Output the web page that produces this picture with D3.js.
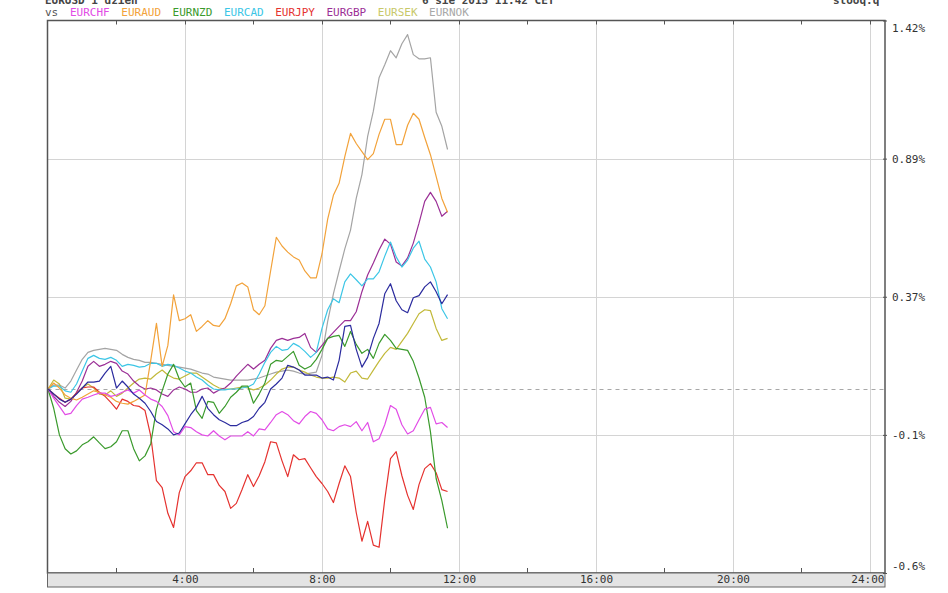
<!DOCTYPE html>
<html><head><meta charset="utf-8">
<script src="https://cdn.jsdelivr.net/npm/d3@7"></script>
<style>body{margin:0;background:#fff}svg{display:block}</style>
</head><body>
<svg id="c" width="948" height="593"></svg>
<script>
// ---- data (percent change since 0:00, sampled every 10 minutes) ----
const times = d3.range(71).map(i => i / 6);
const seriesNames = ["EURNOK","EURSEK","EURGBP","EURJPY","EURCAD","EURNZD","EURAUD","EURCHF","EURUSD"];
const seriesColors = ["#a4a4a4","#c2b93a","#9b2f96","#e5322f","#3cc6e6","#3a9a2c","#f2a23a","#e24ce6","#2b2b9e"];
const legendNames = ["EURCHF","EURAUD","EURNZD","EURCAD","EURJPY","EURGBP","EURSEK","EURNOK"];
const legendColors = ["#e24ce6","#f2a23a","#3a9a2c","#3cc6e6","#e5322f","#9b2f96","#c8c86a","#a8a8a8"];

const EURUSD = [0,-0.011,-0.022,-0.029,-0.022,-0.011,0.004,0.028,0.028,0.032,0.064,0.091,0.004,0.032,0.008,-0.011,-0.020,-0.031,-0.049,-0.071,-0.078,-0.087,-0.100,-0.096,-0.076,-0.056,-0.040,-0.016,-0.042,-0.056,-0.067,-0.073,-0.080,-0.080,-0.073,-0.069,-0.060,-0.042,-0.029,0,0.020,0.044,0.095,0.088,0.076,0.056,0.056,0.056,0.044,0.048,0.036,0.115,0.251,0.255,0.159,0.088,0.127,0.203,0.263,0.381,0.419,0.354,0.318,0.306,0.366,0.374,0.407,0.426,0.389,0.342,0.378];
const EURCHF = [0,-0.020,-0.038,-0.056,-0.053,-0.036,-0.022,-0.018,-0.013,-0.009,-0.009,-0.016,-0.013,-0.007,-0.002,-0.009,-0.002,-0.013,-0.022,-0.027,-0.038,-0.058,-0.093,-0.100,-0.082,-0.084,-0.093,-0.100,-0.104,-0.091,-0.104,-0.118,-0.104,-0.104,-0.104,-0.093,-0.104,-0.087,-0.089,-0.073,-0.056,-0.049,-0.056,-0.069,-0.076,-0.060,-0.049,-0.053,-0.067,-0.087,-0.091,-0.082,-0.078,-0.082,-0.071,-0.091,-0.073,-0.125,-0.114,-0.078,-0.036,-0.044,-0.078,-0.098,-0.091,-0.067,-0.044,-0.040,-0.076,-0.073,-0.084];
const EURAUD = [0,0.024,0.004,-0.013,-0.020,-0.024,-0.018,-0.011,-0.004,-0.007,-0.013,-0.018,-0.027,-0.031,-0.033,-0.027,-0.020,-0.013,0.115,0.263,0.091,0.175,0.377,0.274,0.282,0.298,0.231,0.251,0.274,0.255,0.251,0.282,0.342,0.411,0.422,0.407,0.318,0.298,0.334,0.467,0.594,0.561,0.538,0.520,0.508,0.467,0.441,0.441,0.531,0.662,0.752,0.797,0.898,0.987,0.948,0.917,0.886,0.909,0.983,1.041,1.041,0.944,0.944,1.018,1.064,1.041,0.971,0.905,0.823,0.740,0.688];
const EURNZD = [0,-0.042,-0.100,-0.150,-0.169,-0.158,-0.136,-0.125,-0.107,-0.129,-0.150,-0.143,-0.125,-0.091,-0.091,-0.150,-0.194,-0.176,-0.132,-0.044,-0.004,0.060,0.099,0.040,0.008,0.024,-0.047,-0.064,-0.027,-0.029,-0.053,-0.038,-0.018,-0.007,0.012,0.012,-0.031,-0.011,0.024,0.099,0.115,0.111,0.131,0.151,0.095,0.080,0.091,0.119,0.159,0.203,0.211,0.215,0.171,0.231,0.179,0.143,0.159,0.123,0.183,0.219,0.195,0.163,0.159,0.155,0.111,0.044,-0.018,-0.093,-0.258,-0.338,-0.438];
const EURCAD = [0,0.012,0.012,-0.004,-0.007,0.020,0.072,0.123,0.135,0.123,0.119,0.127,0.115,0.091,0.099,0.095,0.088,0.091,0.103,0.103,0.091,0.099,0.095,0.084,0.072,0.064,0.048,0.036,0.016,0,-0.002,-0.002,0,0,0.004,0.008,0.020,0.060,0.107,0.147,0.171,0.155,0.159,0.183,0.171,0.151,0.127,0.147,0.243,0.318,0.362,0.346,0.426,0.456,0.434,0.411,0.437,0.437,0.464,0.523,0.576,0.520,0.482,0.508,0.553,0.579,0.512,0.482,0.426,0.322,0.282];
const EURJPY = [0,-0.011,-0.020,-0.029,-0.022,-0.009,0.004,0.008,0.008,-0.007,-0.016,-0.029,-0.044,-0.022,-0.027,-0.036,-0.038,-0.047,-0.104,-0.266,-0.291,-0.384,-0.435,-0.309,-0.251,-0.230,-0.201,-0.201,-0.244,-0.244,-0.283,-0.305,-0.366,-0.348,-0.298,-0.244,-0.287,-0.248,-0.197,-0.125,-0.129,-0.194,-0.251,-0.172,-0.190,-0.186,-0.219,-0.251,-0.276,-0.305,-0.345,-0.276,-0.212,-0.251,-0.381,-0.485,-0.413,-0.499,-0.507,-0.334,-0.186,-0.161,-0.248,-0.319,-0.370,-0.280,-0.222,-0.204,-0.237,-0.298,-0.305];
const EURGBP = [0,-0.016,-0.029,-0.038,-0.027,-0.007,0.032,0.091,0.111,0.091,0.099,0.111,0.103,0.072,0.060,0.032,0.012,0,0.004,-0.002,-0.011,-0.016,-0.002,0.008,0,-0.007,-0.007,0,0.004,-0.009,-0.002,0.004,0.024,0.052,0.076,0.099,0.080,0.099,0.115,0.163,0.195,0.203,0.195,0.203,0.207,0.223,0.167,0.147,0.175,0.203,0.227,0.251,0.274,0.274,0.310,0.389,0.452,0.497,0.546,0.587,0.568,0.501,0.486,0.516,0.572,0.647,0.729,0.763,0.729,0.673,0.692];
const EURSEK = [0,0.036,0.020,-0.020,-0.022,-0.009,0.004,0.020,0.004,-0.011,-0.013,-0.004,-0.016,-0.009,0.004,0.024,0.040,0.044,0.040,0.060,0.076,0.056,0.044,0.040,0.052,0.064,0.064,0.048,0.032,0.016,0.004,0,0,0.004,0.008,0.004,-0.002,0.004,0.016,0.036,0.060,0.080,0.088,0.088,0.076,0.068,0.056,0.048,0.044,0.044,0.048,0.044,0.028,0.064,0.072,0.044,0.040,0.076,0.111,0.143,0.167,0.159,0.191,0.223,0.263,0.302,0.318,0.314,0.243,0.195,0.203];
const EURNOK = [0,0.016,0.016,0.004,0.032,0.076,0.119,0.147,0.155,0.159,0.163,0.159,0.155,0.139,0.127,0.119,0.115,0.107,0.107,0.103,0.099,0.095,0.091,0.088,0.084,0.080,0.072,0.064,0.060,0.048,0.044,0.040,0.036,0.036,0.036,0.036,0.040,0.044,0.052,0.060,0.068,0.072,0.076,0.072,0.064,0.060,0.064,0.068,0.135,0.271,0.381,0.467,0.550,0.621,0.740,0.830,0.975,1.072,1.200,1.250,1.304,1.277,1.331,1.366,1.289,1.273,1.273,1.277,1.068,1.014,0.925];

const xTickValues = [4, 8, 12, 16, 20, 24];
const xTickLabels = ["4:00", "8:00", "12:00", "16:00", "20:00", "24:00"];
const xMinorTicks = [2, 6, 10, 14, 18, 22];
const yTickValues = [1.42, 0.89, 0.37, -0.1, -0.6];
const yTickLabels = ["1.42%", "0.89%", "0.37%", "-0.1%", "-0.6%"];

const seriesData = [EURNOK, EURSEK, EURGBP, EURJPY, EURCAD, EURNZD, EURAUD, EURCHF, EURUSD];

// ---- layout ----
const L = 47.5, R = 885, T = 20.5, B = 573;
const H = B - T;
const svg = d3.select("#c");
const mono = "'DejaVu Sans Mono', monospace";

const x = d3.scaleLinear().domain([0, 24.44]).range([48, R]);
// the chart's percent axis is not uniform: labelled levels are evenly spaced, 0% sits between
const y = d3.scaleLinear()
  .domain([-0.6, -0.1, 0, 0.37, 0.89, 1.42])
  .range([B, T + 0.75 * H, T + 0.667 * H, T + 0.5 * H, T + 0.25 * H, T]);

// header (partly cut off at top, as in the original)
const hdr = svg.append("g").attr("font-family", mono).attr("font-size", 11).attr("font-weight", "bold").attr("fill", "#444");
hdr.append("text").attr("x", 45).attr("y", 4).text("EURUSD  1 dzień");
hdr.append("text").attr("x", 422).attr("y", 4).text("6 sie 2013 11:42 CET");
hdr.append("text").attr("x", 833).attr("y", 4).text("stooq.q");

// legend row
const leg = svg.append("g").attr("font-family", mono).attr("font-size", 11);
leg.append("text").attr("x", 45).attr("y", 16).attr("fill", "#555").text("vs");
leg.selectAll("text.lg").data(legendNames).join("text").attr("class", "lg")
  .attr("x", (d, i) => 70 + i * 51.3).attr("y", 16)
  .attr("fill", (d, i) => legendColors[i]).text(d => d);

// grid
const grid = svg.append("g");
grid.selectAll("line.h").data(yTickValues.slice(1, -1)).join("line").attr("class", "h")
  .attr("x1", L).attr("x2", R).attr("y1", d => Math.round(y(d)) + 0.5).attr("y2", d => Math.round(y(d)) + 0.5)
  .attr("stroke", "#d4d4d4").attr("stroke-width", 1);
grid.selectAll("line.v").data(xTickValues).join("line").attr("class", "v")
  .attr("x1", d => Math.round(x(d)) + 0.5).attr("x2", d => Math.round(x(d)) + 0.5).attr("y1", T).attr("y2", B)
  .attr("stroke", "#d4d4d4").attr("stroke-width", 1);
grid.append("line").attr("x1", L).attr("x2", R).attr("y1", Math.round(y(0)) + 0.5).attr("y2", Math.round(y(0)) + 0.5)
  .attr("stroke", "#a8a8a8").attr("stroke-dasharray", "4,4");

// lines
const line = d3.line().x((d, i) => x(times[i])).y(d => y(d));
svg.append("g").selectAll("path").data(seriesData).join("path")
  .attr("d", d => line(d)).attr("fill", "none")
  .attr("stroke", (d, i) => seriesColors[i]).attr("stroke-width", 1.2).attr("stroke-linejoin", "round");

// frame
svg.append("rect").attr("x", L).attr("y", T).attr("width", R - L).attr("height", B - T)
  .attr("fill", "none").attr("stroke", "#555").attr("stroke-width", 1.5);

// top ticks every 2h
svg.append("g").selectAll("line").data(xMinorTicks.concat(xTickValues)).join("line")
  .attr("x1", d => Math.round(x(d)) + 0.5).attr("x2", d => Math.round(x(d)) + 0.5)
  .attr("y1", T).attr("y2", T + 4).attr("stroke", "#555");
// bottom minor ticks
svg.append("g").selectAll("line").data(xMinorTicks).join("line")
  .attr("x1", d => Math.round(x(d)) + 0.5).attr("x2", d => Math.round(x(d)) + 0.5)
  .attr("y1", B - 5).attr("y2", B).attr("stroke", "#555");

// bottom axis band
svg.append("rect").attr("x", L).attr("y", B).attr("width", R - L).attr("height", 14)
  .attr("fill", "#e4e4e4").attr("stroke", "#666").attr("stroke-width", 1);
const xAxis = svg.append("g").attr("transform", `translate(0,${B})`)
  .call(d3.axisBottom(x).tickValues(xTickValues).tickFormat((d, i) => xTickLabels[i]).tickSize(0).tickPadding(2));
xAxis.select(".domain").remove();
xAxis.selectAll("text").attr("font-family", mono).attr("font-size", 11).attr("fill", "#333")
  .attr("text-anchor", (d, i) => i === xTickValues.length - 1 ? "end" : "middle")
  .attr("dx", (d, i) => i === xTickValues.length - 1 ? 14 : 0);

// right axis
const yAxis = svg.append("g").attr("transform", `translate(${R},0)`)
  .call(d3.axisRight(y).tickValues(yTickValues).tickFormat((d, i) => yTickLabels[i]).tickSize(4).tickPadding(3));
yAxis.select(".domain").remove();
yAxis.selectAll(".tick line").attr("stroke", "#555").attr("transform", "translate(-2,0)");
yAxis.selectAll("text").attr("font-family", mono).attr("font-size", 11).attr("fill", "#333")
  .attr("dy", (d, i) => i === 0 ? "1.0em" : (i === yTickValues.length - 1 ? "-0.3em" : "0.32em"));
</script>
</body></html>
